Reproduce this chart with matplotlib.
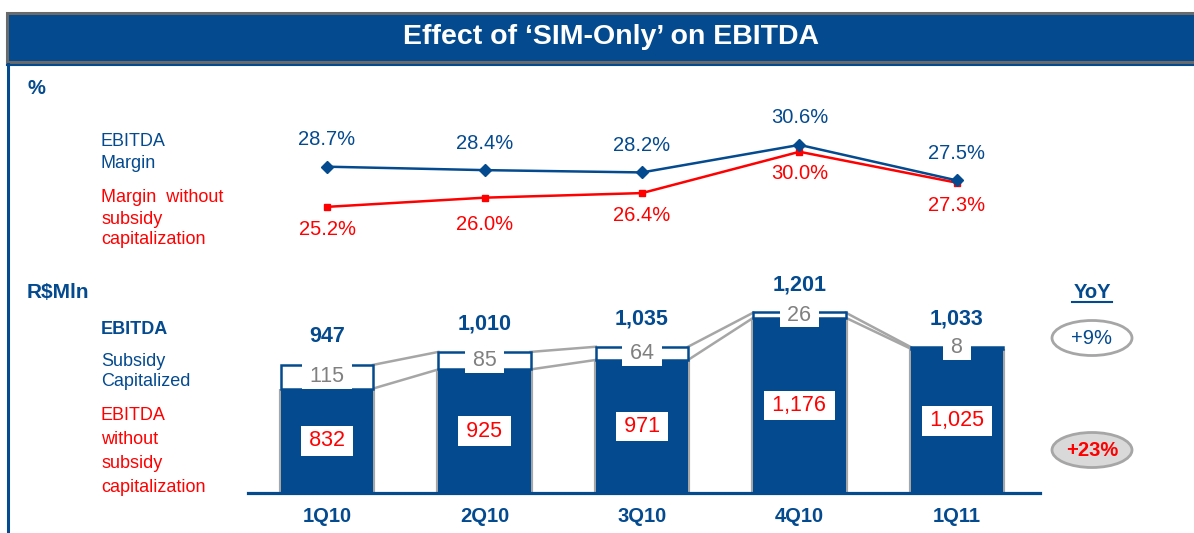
import matplotlib
matplotlib.use('Agg')
import matplotlib.pyplot as plt
from matplotlib import font_manager
from matplotlib.patches import Rectangle, Ellipse

# data
quarters = ['1Q10', '2Q10', '3Q10', '4Q10', '1Q11']
margin = [28.7, 28.4, 28.2, 30.6, 27.5]
margin_wo = [25.2, 26.0, 26.4, 30.0, 27.3]
ebitda = [947, 1010, 1035, 1201, 1033]
ebitda_wo = [832, 925, 971, 1176, 1025]
subsidy = [115, 85, 64, 26, 8]
yoy_ebitda = '+9%'
yoy_wo = '+23%'

BLUE = '#044a8f'
RED = '#ff0000'
GRAY = '#a6a6a6'
GRAYTXT = '#808080'

names = {f.name for f in font_manager.fontManager.ttflist}
NARROW = 'Liberation Sans Narrow' if 'Liberation Sans Narrow' in names else 'Liberation Sans'
plt.rcParams['font.family'] = ['Liberation Sans', 'DejaVu Sans']

W, H = 1194, 533
fig = plt.figure(figsize=(W / 100, H / 100), dpi=100)

# background layer in pixel units (y downwards)
bg = fig.add_axes([0, 0, 1, 1])
bg.set_xlim(0, W)
bg.set_ylim(H, 0)
bg.axis('off')

bg.add_patch(Rectangle((7, 13), W, 49, fc=BLUE, ec='#6a6a6a', lw=2.2))
bg.plot([7, W], [65, 65], color=BLUE, lw=1.5)
bg.plot([8, 8], [64, H], color=BLUE, lw=2.2)
bg.text(611, 37, 'Effect of \u2018SIM-Only\u2019 on EBITDA', color='white',
        fontsize=20.5, fontweight='bold', family=NARROW, ha='center', va='center')

# left side labels
bg.text(27, 88, '%', color=BLUE, fontsize=14.5, fontweight='bold', family=NARROW, va='center')
bg.text(101, 142, 'EBITDA', color=BLUE, fontsize=13, family=NARROW, va='center')
bg.text(101, 163, 'Margin', color=BLUE, fontsize=13, family=NARROW, va='center')
for y, s in zip([198, 219, 240], ['Margin  without', 'subsidy', 'capitalization']):
    bg.text(101, y, s, color=RED, fontsize=13, family=NARROW, va='center')
bg.text(27, 292, 'R$Mln', color=BLUE, fontsize=15, fontweight='bold', family=NARROW, va='center')
bg.text(101, 330, 'EBITDA', color=BLUE, fontsize=13, fontweight='bold', family=NARROW, va='center')
bg.text(101, 361, 'Subsidy', color=BLUE, fontsize=13, family=NARROW, va='center')
bg.text(101, 382, 'Capitalized', color=BLUE, fontsize=13, family=NARROW, va='center')
for y, s in zip([416, 439, 463, 487], ['EBITDA', 'without', 'subsidy', 'capitalization']):
    bg.text(101, y, s, color=RED, fontsize=13, family=NARROW, va='center')

# YoY
bg.text(1092, 292, 'YoY', color=BLUE, fontsize=14.5, fontweight='bold', ha='center', va='center')
bg.plot([1072, 1112], [302, 302], color=BLUE, lw=1.5)
bg.add_patch(Ellipse((1092, 338), 80, 35, fc='white', ec=GRAY, lw=2))
bg.text(1092, 338, yoy_ebitda, color=BLUE, fontsize=14.5, ha='center', va='center')
bg.add_patch(Ellipse((1092, 450), 80, 35, fc='#d9d9d9', ec=GRAY, lw=2))
bg.text(1092, 450, yoy_wo, color=RED, fontsize=14.5, fontweight='bold', ha='center', va='center')

# shared x scale
X0, X1 = -0.5016, 4.527
x = list(range(len(quarters)))
bw = 0.585

# margin lines
axl = fig.add_axes([248 / W, 1 - 260 / H, 792 / W, 160 / H])
axl.set_xlim(X0, X1)
axl.set_ylim(20.57, 34.51)
axl.axis('off')
axl.plot(x, margin_wo, color=RED, lw=1.8, marker='s', ms=4)
axl.plot(x, margin, color=BLUE, lw=1.8, marker='D', ms=6.5)
red_dy = [23, 27, 22, 22, 23]
for i in x:
    axl.annotate(f'{margin[i]:.1f}%', (i, margin[i]), xytext=(0, 27), textcoords='offset pixels',
                 ha='center', va='center', color=BLUE, fontsize=14.5)
    axl.annotate(f'{margin_wo[i]:.1f}%', (i, margin_wo[i]), xytext=(0, -red_dy[i]),
                 textcoords='offset pixels', ha='center', va='center', color=RED, fontsize=14.5)

# EBITDA bars
axb = fig.add_axes([248 / W, 1 - 493 / H, 792 / W, 213 / H])
axb.set_facecolor('none')
axb.set_xlim(X0, X1)
axb.set_ylim(325, 1359)
ybot = axb.get_ylim()[0]
for s in ['top', 'left', 'right']:
    axb.spines[s].set_visible(False)
axb.spines['bottom'].set_color(BLUE)
axb.spines['bottom'].set_linewidth(2.3)
axb.spines['bottom'].set_zorder(6)
axb.set_xticks([])
axb.set_yticks([])

for i in x:
    axb.vlines([i - bw / 2, i + bw / 2], ybot, ebitda_wo[i], color=GRAY, lw=3, zorder=1)
axb.bar(x, ebitda_wo, bw, color=BLUE, zorder=2)
for i in range(len(x) - 1):
    axb.plot([i + bw / 2, i + 1 - bw / 2], [ebitda[i], ebitda[i + 1]], color=GRAY, lw=1.8, zorder=1.5)
    axb.plot([i + bw / 2, i + 1 - bw / 2], [ebitda_wo[i], ebitda_wo[i + 1]], color=GRAY, lw=1.8, zorder=1.5)
axb.bar(x, subsidy, bw, bottom=ebitda_wo, color='white', edgecolor=BLUE, lw=1.8, zorder=3)

for i in x:
    axb.annotate(f'{ebitda[i]:,}', (i, ebitda[i]), xytext=(0, 28), textcoords='offset pixels',
                 ha='center', va='center', color=BLUE, fontsize=15.5, fontweight='bold')
    axb.annotate(f' {subsidy[i]} ', (i, ebitda_wo[i] + subsidy[i] / 2), ha='center', va='center',
                 color=GRAYTXT, fontsize=15.5, zorder=5,
                 bbox=dict(boxstyle='square,pad=0.08', fc='white', ec='none'))
    axb.annotate(f'\u2009{ebitda_wo[i]:,}\u2009', (i, (ybot + ebitda_wo[i]) / 2), ha='center',
                 va='center', color=RED, fontsize=15.5, zorder=5,
                 bbox=dict(boxstyle='square,pad=0.2', fc='white', ec='none'))
    axb.annotate(quarters[i], (i, ybot), xytext=(0, -24), textcoords='offset pixels',
                 ha='center', va='center', color=BLUE, fontsize=14.5, fontweight='bold',
                 annotation_clip=False)

fig.savefig('out.png', dpi=100)
